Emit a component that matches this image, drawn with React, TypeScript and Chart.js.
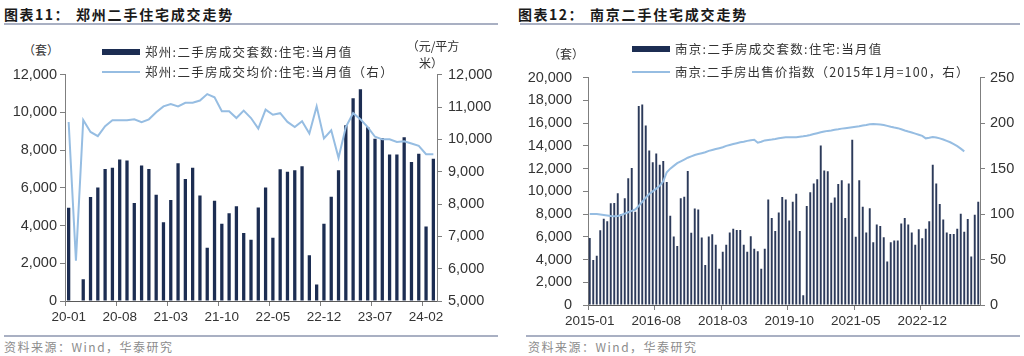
import React, { useEffect, useRef } from 'react';
import { Chart, registerables } from 'chart.js';

Chart.register(...registerables);

// ---------- categories ----------
function monthLabels(y0: number, m0: number, n: number, longYear: boolean): string[] {
  const out: string[] = [];
  for (let i = 0; i < n; i++) {
    const t = (m0 - 1) + i;
    const y = y0 + Math.floor(t / 12);
    const m = (t % 12) + 1;
    const ys = longYear ? String(y) : String(y).slice(2);
    out.push(ys + '-' + (m < 10 ? '0' + m : String(m)));
  }
  return out;
}

// Zhengzhou (2020-01 .. 2024-03)
const zzCategories = monthLabels(2020, 1, 51, false);
const zzVolume: (number | null)[] = [
  4950, null, 1150, 5520, 6020, 7000, 7070, 7500, 7450, 5200,
  7190, 7000, 5630, 4170, 5350, 7310, 6470, 7070, 5600, 2830,
  5310, 4090, 4650, 5030, 3600, 3250, 4960, 6020, 3350, 6980,
  6860, 6930, 7140, 2420, 880, 4090, 5530, 6930, 9320, 10750,
  11230, 9210, 8610, 8650, 7770, 7770, 8680, 7370, 7810, 3950,
  7540,
];
const zzPrice: (number | null)[] = [
  10535, 6250, 10600, 10230, 10100, 10410, 10590, 10590, 10590, 10620,
  10530, 10620, 10840, 11020, 11090, 11020, 11130, 11130, 11200, 11400,
  11300, 10870, 10870, 10660, 10890, 10660, 10330, 10920, 10760, 10810,
  10540, 10380, 10560, 10180, 11020, 10030, 10280, 9430, 10380, 10810,
  10620, 10380, 10080, 10000, 10000, 9920, 9940, 9870, 9800, 9540,
  9540,
];
const zzTickEvery = 7;

// Nanjing (2015-01 .. 2024-04)
const njCategories = monthLabels(2015, 1, 112, true);
const njVolume: (number | null)[] = [
  5900, 3950, 4340, 6570, 7600, 7360, 8950, 8980, 9830, 8000,
  9400, 11150, 12060, 8200, 17500, 17650, 15800, 13590, 12570, 13330,
  12340, 12680, 10830, 7850, 6020, 5200, 9400, 9520, 11800, 6360,
  8490, 8410, 5940, 3520, 6020, 6220, 5300, 3200, 4680, 5300,
  6380, 6720, 6610, 6610, 5300, 4680, 6040, 4960, 4740, 3200,
  4960, 9280, 7660, 6520, 8140, 9500, 9280, 7430, 9080, 9790,
  6520, 850, 8710, 9930, 10700, 11060, 14040, 11830, 11770, 9000,
  9450, 10640, 10980, 7660, 10700, 14550, 6010, 10980, 8650, 6380,
  8510, 5530, 7090, 6950, 5960, 3830, 5530, 5670, 5670, 7180,
  7660, 7090, 6380, 5300, 6670, 5870, 6720, 7370, 12340, 10700,
  8880, 7520, 6380, 6240, 6240, 6720, 8030, 6440, 7570, 4260,
  7940, 9080,
];
const njIndex: (number | null)[] = [
  100, 100, 100, 99.5, 99, 98.5, 97.8, 97.5, 98, 99,
  100.5, 102, 103.5, 105, 109, 113.5, 118, 122, 125, 128,
  131, 136, 146, 150, 153, 156, 158, 160, 162, 163.5,
  165, 166, 167, 168, 169.5, 170.5, 171.5, 172.5, 173.5, 175,
  176, 177, 178, 179, 179.5, 180.5, 181.3, 181.8, 178.5, 179.5,
  181, 181.5, 182, 182.6, 183.5, 184, 184.4, 184.5, 184.5, 184.5,
  185, 185.5, 186.2, 187, 188, 189, 190, 190.8, 191.5, 192,
  192.8, 193.3, 194, 194.5, 195, 195.5, 196, 196.5, 197.5, 198,
  198.8, 199, 198.8, 198.5, 198, 197, 196, 195.2, 194.5, 193.3,
  192, 190.8, 189.7, 188.5, 187.3, 186, 183.3, 184, 184.8, 184.3,
  183.3, 182, 180.5, 179, 177, 174.8, 172, 169,
  null, null, null, null,
];
const njTickEvery = 19;

// ---------- styles ----------
const NAVY = '#1c2d52';
const NAVY2 = '#2c3a5a';
const LIGHT = '#96bde2';
const AXIS = '#7f7f7f';
const TICKTXT = '#333333';
const XFONT = { family: "'Liberation Sans', Arial, sans-serif", size: 13.5 };
const YFONT = { family: "'Liberation Sans', Arial, sans-serif", size: 14.5 };
const CJK = "'Noto Sans CJK SC', sans-serif";

interface Cfg {
  labels: string[];
  bars: (number | null)[];
  line: (number | null)[];
  every: number;
  barColor: string;
  barPct: number;
  yMax: number;
  yStep: number;
  y1Min: number;
  y1Max: number;
  y1Step: number;
  leftW: number;
  rightW: number;
  leftPad: number;
  rightPad: number;
}

function makeConfig(c: Cfg): any {
  return {
    type: 'bar',
    data: {
      labels: c.labels,
      datasets: [
        {
          type: 'line',
          data: c.line,
          yAxisID: 'y1',
          borderColor: LIGHT,
          backgroundColor: LIGHT,
          borderWidth: 2,
          pointRadius: 0,
          tension: 0,
          order: 0,
        },
        {
          type: 'bar',
          data: c.bars,
          yAxisID: 'y',
          backgroundColor: c.barColor,
          barPercentage: c.barPct,
          categoryPercentage: 1,
          order: 1,
        },
      ],
    },
    options: {
      animation: false,
      responsive: true,
      maintainAspectRatio: false,
      layout: { padding: { top: 12, left: 0, right: 0, bottom: 0 } },
      plugins: { legend: { display: false }, tooltip: { enabled: false }, title: { display: false } },
      scales: {
        x: {
          offset: true,
          grid: {
            display: true,
            offset: true,
            drawOnChartArea: false,
            drawTicks: true,
            tickLength: 5,
            color: (ctx: any) => (typeof ctx.index === 'number' && ctx.index % c.every === 0 ? AXIS : 'rgba(0,0,0,0)'),
          },
          border: { display: true, color: '#595959', width: 1 },
          ticks: {
            autoSkip: false,
            maxRotation: 0,
            minRotation: 0,
            padding: 3,
            color: TICKTXT,
            font: XFONT,
            callback: (_v: any, i: number) => (i % c.every === 0 ? c.labels[i] : ''),
          },
          afterFit: (s: any) => { s.height = 30; },
        },
        y: {
          position: 'left',
          min: 0,
          max: c.yMax,
          grid: { drawOnChartArea: false, drawTicks: true, tickLength: 5, color: AXIS },
          border: { display: true, color: AXIS, width: 1 },
          ticks: { stepSize: c.yStep, padding: c.leftPad, color: TICKTXT, font: YFONT },
          afterFit: (s: any) => { s.width = c.leftW; },
        },
        y1: {
          position: 'right',
          min: c.y1Min,
          max: c.y1Max,
          grid: { drawOnChartArea: false, drawTicks: true, tickLength: 5, color: AXIS },
          border: { display: true, color: AXIS, width: 1 },
          ticks: { stepSize: c.y1Step, padding: c.rightPad, color: TICKTXT, font: YFONT },
          afterFit: (s: any) => { s.width = c.rightW; },
        },
      },
    },
  };
}

const abs = (o: React.CSSProperties): React.CSSProperties => ({ position: 'absolute', ...o });

function Text(props: { x: number; y: number; size: number; bold?: boolean; color?: string; ls?: number; children: React.ReactNode; center?: boolean; w?: number }) {
  return (
    <div
      style={abs({
        left: props.x,
        top: props.y,
        width: props.w,
        textAlign: props.center ? 'center' : 'left',
        fontFamily: CJK,
        fontSize: props.size,
        lineHeight: props.size + 4 + 'px',
        fontWeight: props.bold ? 700 : 400,
        color: props.color || '#333',
        letterSpacing: (props.ls ?? 0) + 'px',
        whiteSpace: 'nowrap',
      })}
    >
      {props.children}
    </div>
  );
}

export default function App() {
  const leftRef = useRef<HTMLCanvasElement | null>(null);
  const rightRef = useRef<HTMLCanvasElement | null>(null);

  useEffect(() => {
    const left = new Chart(leftRef.current as HTMLCanvasElement, makeConfig({
      labels: zzCategories, bars: zzVolume, line: zzPrice, every: zzTickEvery,
      barColor: NAVY, barPct: 0.45, yMax: 12000, yStep: 2000,
      y1Min: 5000, y1Max: 12000, y1Step: 1000, leftW: 65, rightW: 63, leftPad: 3, rightPad: 6,
    }));
    const right = new Chart(rightRef.current as HTMLCanvasElement, makeConfig({
      labels: njCategories, bars: njVolume, line: njIndex, every: njTickEvery,
      barColor: NAVY2, barPct: 0.55, yMax: 20000, yStep: 2000,
      y1Min: 0, y1Max: 250, y1Step: 50, leftW: 76, rightW: 44, leftPad: 11, rightPad: 5,
    }));
    return () => { left.destroy(); right.destroy(); };
  }, []);

  const rule = '#a9b0c3';

  return (
    <div style={abs({ left: 0, top: 0, width: 1024, height: 356, background: '#fff', overflow: 'hidden' })}>
      {/* titles */}
      <Text x={4} y={5} size={14} bold ls={1.5} color="#1a1a1a">图表11：</Text>
      <Text x={76} y={5} size={14} bold ls={1.8} color="#1a1a1a">郑州二手住宅成交走势</Text>
      <Text x={518} y={5} size={14} bold ls={1.5} color="#1a1a1a">图表12：</Text>
      <Text x={590} y={5} size={14} bold ls={1.8} color="#1a1a1a">南京二手住宅成交走势</Text>
      <div style={abs({ left: 4, top: 23, width: 494, height: 1.5, background: rule })} />
      <div style={abs({ left: 520, top: 23, width: 500, height: 1.5, background: rule })} />

      {/* charts */}
      <div style={abs({ left: 0, top: 60, width: 500, height: 271 })}>
        <canvas ref={leftRef} />
      </div>
      <div style={abs({ left: 512, top: 58, width: 512, height: 277 })}>
        <canvas ref={rightRef} />
      </div>

      {/* left units & legend */}
      <Text x={23} y={42} size={12}>（套）</Text>
      <Text x={403} y={38} size={12} w={60} center>（元/平方</Text>
      <Text x={403} y={55} size={12} w={56} center>米）</Text>
      <div style={abs({ left: 102, top: 49, width: 38, height: 6, background: NAVY })} />
      <Text x={145} y={44} size={12.5} ls={1.3}>郑州:二手房成交套数:住宅:当月值</Text>
      <div style={abs({ left: 102, top: 71, width: 38, height: 2, background: LIGHT })} />
      <Text x={145} y={64} size={12.5} ls={1.3}>郑州:二手房成交均价:住宅:当月值（右）</Text>

      {/* right units & legend */}
      <Text x={548} y={46} size={12}>（套）</Text>
      <div style={abs({ left: 632, top: 46, width: 38, height: 6, background: NAVY })} />
      <Text x={675} y={41} size={12.5} ls={1.3}>南京:二手房成交套数:住宅:当月值</Text>
      <div style={abs({ left: 632, top: 70.5, width: 38, height: 2, background: LIGHT })} />
      <Text x={675} y={63.5} size={12.5} ls={1.1}>南京:二手房出售价指数（2015年1月=100，右）</Text>

      {/* bottom rules and sources */}
      <div style={abs({ left: 4, top: 335, width: 494, height: 1.5, background: rule })} />
      <div style={abs({ left: 526, top: 335, width: 494, height: 1.5, background: rule })} />
      <Text x={4} y={339} size={12} ls={1.5} color="#8c8c8c">资料来源：Wind，华泰研究</Text>
      <Text x={528} y={339} size={12} ls={1.5} color="#8c8c8c">资料来源：Wind，华泰研究</Text>
    </div>
  );
}
